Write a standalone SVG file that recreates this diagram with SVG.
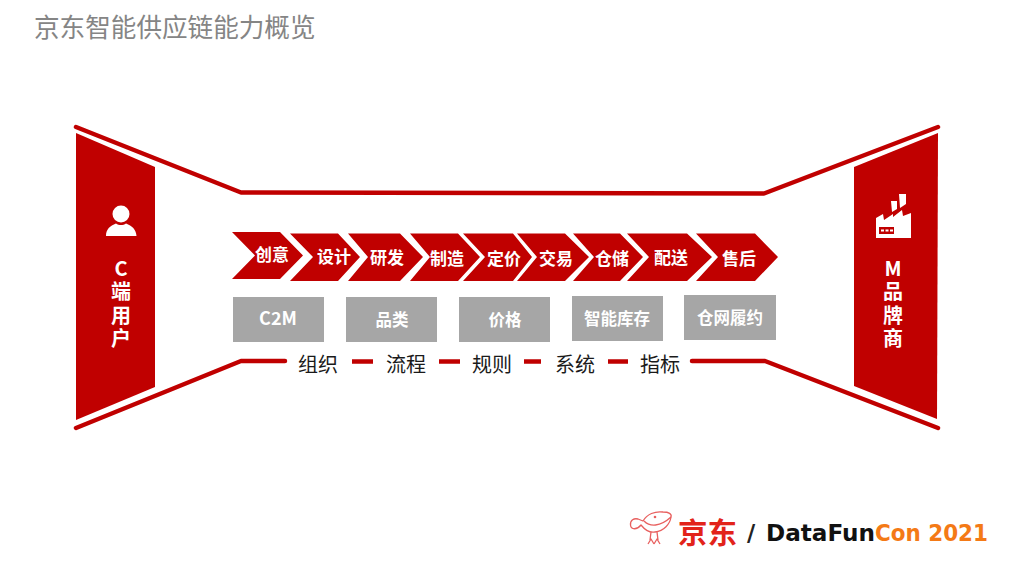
<svg xmlns="http://www.w3.org/2000/svg" width="1024" height="576" viewBox="0 0 1024 576">
<style>
text{font-family:"Noto Sans CJK SC","Noto Sans",sans-serif;text-anchor:middle}
.panel{fill:#c00000}
.line{fill:none;stroke:#c00000;stroke-width:4.5;stroke-linecap:round;stroke-linejoin:round}
.dash{fill:none;stroke:#c00000;stroke-width:4.5}
.chev{fill:#c00000}
.cl{fill:#fff;font-size:17px;font-weight:700}
.box{fill:#a6a6a6}
.bl{fill:#fff;font-size:16.5px;font-weight:700}
.side{fill:#fff;font-size:20px;font-weight:700;writing-mode:vertical-rl;text-orientation:upright;text-anchor:start;letter-spacing:3.5px}
.low{fill:#1a1a1a;font-size:20px}
.lat{font-family:"DejaVu Sans",sans-serif;font-size:22.5px;font-weight:700;text-anchor:start}
.dog{fill:none;stroke:#e8605f;stroke-width:1.300;stroke-linejoin:round}
</style>
<rect width="1024" height="576" fill="#fff"/>
<text x="34" y="37" style="text-anchor:start;font-size:25.6px;fill:#858585">京东智能供应链能力概览</text>
<g id="connectors">
<path class="line" d="M76 127L241 192.500L764 193.500L938 127"/>
<path class="line" d="M76 428L241 361L285 361"/>
<path class="line" d="M692 361H765L938 428"/>
<path class="dash" d="M352 361.500H373M439 361.500H460M524 361.500H541M608 361.500H628"/>
</g>
<g id="node-c-user">
<polygon class="panel" points="76,133 155,167 155,387 76,420"/>
<circle cx="121" cy="214" r="8.500" fill="#fff"/>
<path fill="#fff" d="M106 236C106 229 110 226 116 223.500C119 225.500 123 225.500 126 223.500C132 226 136 229 136.500 236Z"/>
<text class="side" x="121" y="258">C端用户</text>
</g>
<g id="node-m-brand">
<polygon class="panel" points="854,167 938,133 937,419 854,386"/>
<path fill="#fff" fill-rule="evenodd" d="M876 238V218L883 214L884 220L893 214V217L902 210L903 216L911 213V238ZM879 227V234H894V227Z"/>
<path fill="#fff" d="M891 201H897V209L892 212ZM899 194H906V204L900 208Z"/>
<path fill="#fff" d="M881 229.500H884V231.500H881ZM885.500 229.500H888.500V231.500H885.500ZM890 229.500H893V231.500H890Z"/>
<text class="side" x="893" y="258">M品牌商</text>
</g>
<g id="chevrons">
<g id="step-1"><polygon class="chev" points="232,232 280,232 303,255.500 280,279 232,279 255,255.500"/><text class="cl" x="272" y="261">创意</text></g>
<g id="step-2"><polygon class="chev" points="290,233.500 338,233.500 360,257 338,281 290,281 313,257"/><text class="cl" x="334" y="263">设计</text></g>
<g id="step-3"><polygon class="chev" points="348,233.500 400,233.500 423,257 400,281 348,281 368,257"/><text class="cl" x="387" y="264">研发</text></g>
<g id="step-4"><polygon class="chev" points="410,233.500 458,233.500 480,257 458,281 410,281 430,257"/><text class="cl" x="447" y="265">制造</text></g>
<g id="step-5"><polygon class="chev" points="463,233.500 513,233.500 532,257 513,281 463,281 485,257"/><text class="cl" x="504" y="265">定价</text></g>
<g id="step-6"><polygon class="chev" points="517,233.500 565,233.500 589,257 565,281 517,281 537,257"/><text class="cl" x="556" y="265">交易</text></g>
<g id="step-7"><polygon class="chev" points="573,233.500 620,233.500 643,257 620,281 573,281 594,257"/><text class="cl" x="612" y="265">仓储</text></g>
<g id="step-8"><polygon class="chev" points="627,233.500 687,233.500 712,257 687,281 627,281 649,257"/><text class="cl" x="671" y="264">配送</text></g>
<g id="step-9"><polygon class="chev" points="696,233.500 755,233.500 778,257 755,281 696,281 718,257"/><text class="cl" x="739" y="265">售后</text></g>
</g>
<g id="box-c2m"><rect class="box" x="233" y="297" width="91" height="45"/><text class="bl" x="278" y="325" style="font-size:18px">C2M</text></g>
<g id="box-cat"><rect class="box" x="346" y="297" width="91" height="45"/><text class="bl" x="392" y="326">品类</text></g>
<g id="box-price"><rect class="box" x="459" y="297" width="91" height="45"/><text class="bl" x="505" y="326">价格</text></g>
<g id="box-inv"><rect class="box" x="572" y="296" width="91" height="45"/><text class="bl" x="617" y="325">智能库存</text></g>
<g id="box-net"><rect class="box" x="684" y="295" width="92" height="45"/><text class="bl" x="730" y="324">仓网履约</text></g>
<g id="labels-low">
<text class="low" x="318" y="372">组织</text>
<text class="low" x="406" y="372">流程</text>
<text class="low" x="492" y="372">规则</text>
<text class="low" x="575" y="372">系统</text>
<text class="low" x="660" y="372">指标</text>
</g>
<g id="logo">
<path class="dog" d="M641 525C637 530 631 530 630.500 525C630 520 634 518 638 519L643 521C647 514 655 511 663 512C669 512 672 514 671 517C670 524 664 531 655 532C650 533 645 530 641 525Z"/>
<path class="dog" d="M644 521C650 527 660 527 671 517M651 532L650 540M657 532L658 540M648 544L651 539L654 544M654 544L657 539L660 544"/>
<circle cx="655" cy="517" r="1.300" fill="#e8605f"/>
<text x="678" y="544" textLength="59" lengthAdjust="spacingAndGlyphs" style="font-size:29px;font-weight:700;fill:#e2231a;text-anchor:start">京东</text>
<text x="747" y="541" class="lat" style="fill:#222">/</text>
<text x="766" y="540.500" textLength="109" lengthAdjust="spacingAndGlyphs" class="lat" style="fill:#111">DataFun</text>
<text x="875" y="540.500" textLength="113" lengthAdjust="spacingAndGlyphs" class="lat" style="fill:#f47a16">Con 2021</text>
</g>
</svg>
